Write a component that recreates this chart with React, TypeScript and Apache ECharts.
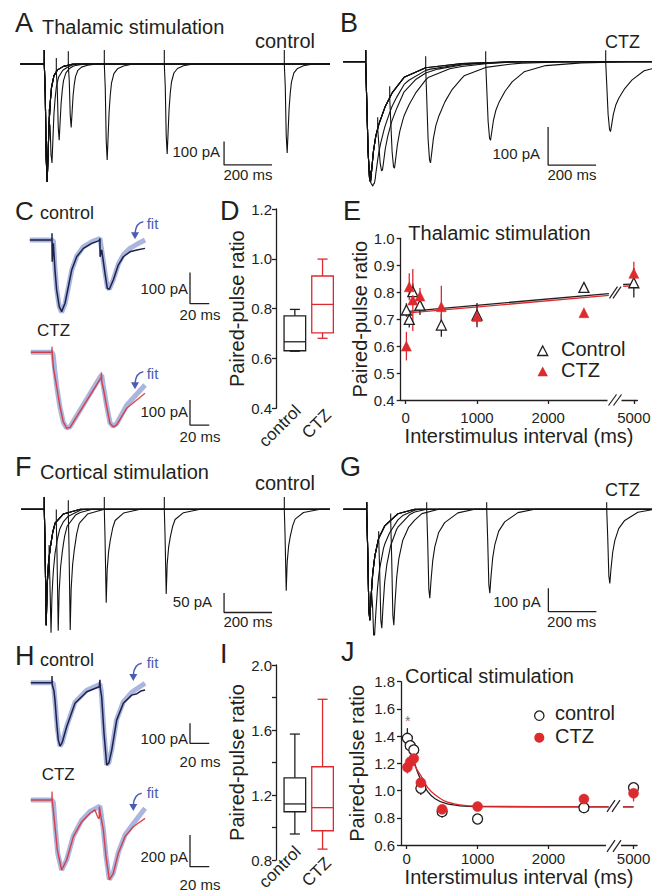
import React, { useEffect, useRef } from "react";
import * as echarts from "echarts";

type P = [number, number];

const FONT = "'Liberation Sans', Arial, sans-serif";
const INK = "#231f20";
const RED = "#dc2a2e";
const FITBLUE = "#aab6de";
const ARROWBLUE = "#4b5cb3";
const NAVY = "#1c2149";

// ---------------- Panels A, B, F, G : overlaid paired-pulse sweeps ----------------
const sweepIsi = [20, 50, 100, 250, 500, 1000]; // ms between the two stimuli
// normalised EPSC waveforms: [ms after stimulus, fraction of peak]
const shapeThalCtl: P[] = [[0, 0], [4, 0.25], [8, 0.8], [12, 1], [16, 0.75], [20, 0.5], [25, 0.32], [30, 0.2], [40, 0.1], [55, 0.05], [80, 0.02], [120, 0]];
const shapeThalCtz: P[] = [[0, 0], [4, 0.3], [10, 0.75], [16, 0.97], [20, 1], [25, 0.9], [32, 0.75], [42, 0.62], [55, 0.52], [80, 0.38], [110, 0.26], [160, 0.13], [250, 0.05], [400, 0.015], [600, 0]];
const shapeCortCtl: P[] = [[0, 0], [3, 0.3], [8, 1], [12, 0.65], [18, 0.45], [25, 0.33], [35, 0.2], [45, 0.12], [80, 0.04], [150, 0]];
const shapeCortCtz: P[] = [[0, 0], [4, 0.35], [9, 0.9], [13, 1], [18, 0.8], [25, 0.58], [34, 0.42], [50, 0.26], [75, 0.15], [130, 0.04], [200, 0]];
// amplitudes (pA) of first EPSC and of the added second EPSC per interval
const ampThalCtl1 = 506;
const ampThalCtl2 = [334, 306, 270, 412, 386, 382];
const ampThalCtz1 = 316;
const ampThalCtz2 = [103, 147, 206, 252, 205, 184];
const ampCortCtl1 = 299;
const ampCortCtl2 = [231, 286, 304, 241, 218, 210];
const ampCortCtz1 = 476;
const ampCortCtz2 = [331, 414, 462, 382, 360, 318];
// scale bars [ms, pA]
const barA: P[] = [[749, -333], [749, -433], [949, -433]];
const barB: P[] = [[760, -172], [760, -272], [960, -272]];
const barF: P[] = [[749, -216], [749, -266], [949, -266]];
const barG: P[] = [[757, -339], [757, -439], [957, -439]];

// ---------------- Panels C, H : single pairs (50 ms) with fits ----------------
const traceCctl: P[] = [[-23, 0], [0, 0], [0, 22], [0.2, -70], [1.4, -11], [3.1, -97], [4.8, -161], [7.5, -215], [10, -231], [13.5, -204], [17, -150], [20.4, -97], [25.6, -54], [32.5, -27], [41, -11], [49, -2], [49.7, 5], [49.8, -54], [51.5, -32], [54.9, -107], [57.3, -156], [59.4, -159], [63.5, -129], [68.7, -81], [73.9, -54], [80.8, -38], [87.8, -32], [96.4, -27]];
const fitCctl: P[] = [[-23, 0], [0, 0], [1.5, -4], [3.1, -92], [4.8, -158], [7.5, -214], [10, -233], [13.5, -206], [17, -152], [20.4, -98], [25.6, -52], [32.5, -22], [41, -6], [49.7, 5], [51, -22], [54.9, -104], [57.3, -152], [59.4, -158], [63.5, -128], [68.7, -78], [73.9, -48], [80.8, -27], [87.8, -14], [96.4, 0]];
const traceCctz: P[] = [[-22, 0], [0, 0], [0, 22], [0.3, -5], [1.35, -58], [4.9, -138], [8.3, -218], [11.7, -278], [15.2, -304], [18.7, -300], [49.7, -108], [51, -100], [51.2, -80], [51.5, -115], [53.5, -150], [56.7, -218], [60.1, -284], [63.5, -298], [67, -290], [77.4, -224], [96.4, -164]];
const fitCctz: P[] = [[-22, 0], [0, 0], [1.2, -10], [3, -75], [5, -140], [8.3, -220], [11.7, -280], [15, -302], [18.7, -298], [49.7, -100], [51.5, -91], [53, -130], [56.7, -215], [60.1, -282], [63.5, -296], [67, -286], [77.4, -212], [96.4, -131]];
const traceHctl: P[] = [[-22, 0], [0, 0], [0, 33], [0.3, -10], [2, -40], [3.1, -87], [4.9, -203], [6.5, -286], [8.3, -317], [10.5, -300], [15.2, -220], [23.8, -103], [36, -45], [49, -20], [49.7, 15], [50, -25], [51.5, -72], [53.9, -253], [56.7, -412], [59, -400], [61.9, -337], [67, -187], [73.9, -103], [82.6, -62], [88, -55], [92, -42], [96.4, -37]];
const fitHctl: P[] = [[-22, 0], [0, 0], [1.5, -5], [3.5, -110], [5.5, -230], [8.3, -317], [10.5, -300], [15.2, -218], [23.8, -98], [36, -38], [49.7, -8], [51, -40], [53.9, -250], [56.7, -410], [59, -398], [61.9, -335], [67, -184], [73.9, -96], [82.6, -48], [96.4, -3]];
const traceHctz: P[] = [[-22, 0], [0, 0], [0, 53], [0.3, -5], [1.35, -63], [3.1, -169], [5.5, -316], [10, -443], [15.2, -380], [22.1, -232], [30.8, -137], [39.4, -84], [44.6, -63], [46.5, -95], [48, -116], [49, -116], [49.1, -42], [50, -80], [53.2, -190], [56, -359], [59.4, -506], [63.5, -464], [68.7, -337], [75.6, -232], [84.2, -169], [96.4, -116]];
const fitHctz: P[] = [[-22, 0], [0, 0], [1.5, -15], [3.5, -180], [6, -340], [10, -443], [15.2, -378], [22.1, -228], [30.8, -128], [39.4, -72], [49.5, -40], [50.5, -70], [53.2, -185], [56, -355], [59.4, -503], [63.5, -462], [68.7, -333], [75.6, -222], [84.2, -150], [96.4, -52]];
const barC1: P[] = [[143, -105], [143, -205], [163, -205]];
const barC2: P[] = [[143, -191], [143, -291], [163, -291]];
const barH1: P[] = [[143, -203], [143, -303], [163, -303]];
const barH2: P[] = [[143, -222], [143, -422], [163, -422]];

// ---------------- Panels D, I : box plots [min, q1, median, q3, max] ----------------
const boxGroups = ["control", "CTZ"];
const thalBoxCtl = [0.629, 0.631, 0.667, 0.771, 0.797];
const thalBoxCtz = [0.681, 0.703, 0.817, 0.931, 0.999];
const cortBoxCtl = [0.96, 1.097, 1.145, 1.306, 1.575];
const cortBoxCtz = [0.867, 0.98, 1.122, 1.374, 1.789];

// ---------------- Panels E, J : PPR vs interval ----------------
const isiMs = [10, 50, 100, 200, 500, 1000, 2500, 5000];
const thalCtl = [0.734, 0.699, 0.802, 0.752, 0.678, 0.715, 0.818, 0.835];
const thalCtlErr = [0.025, 0.03, 0.03, 0.037, 0.043, 0.045, 0.015, 0.055];
const thalCtz = [0.6, 0.82, 0.771, 0.786, 0.746, 0.71, 0.724, 0.87];
const thalCtzErr = [0.053, 0.05, 0.115, 0.03, 0.078, 0.03, 0.01, 0.043];
const cortCtl = [1.384, 1.33, 1.298, 1.017, 0.845, 0.791, 0.874, 1.021];
const cortCtlErr = [0.075, 0.05, 0.04, 0.05, 0.045, 0.015, 0.02, 0.02];
const cortCtz = [1.171, 1.21, 1.235, 1.058, 0.862, 0.882, 0.938, 0.98];
const cortCtzErr = [0.045, 0.04, 0.05, 0.03, 0.03, 0.02, 0.02, 0.06];
const thalFitX = [0, 2850, 4850, 5000];
const thalFitCtl = [0.728, 0.795, 0.829, 0.83];
const thalFitCtz = [0.722, 0.788, 0.822, 0.824];
const cortFitX = [10, 50, 100, 150, 200, 300, 400, 550, 750, 1000, 2850, 4850, 5000];
const cortFitCtl = [1.38, 1.3, 1.22, 1.14, 1.08, 0.99, 0.94, 0.905, 0.888, 0.882, 0.88, 0.88, 0.88];
const cortFitCtz = [1.24, 1.23, 1.2, 1.15, 1.11, 1.02, 0.97, 0.92, 0.895, 0.885, 0.88, 0.88, 0.88];
const xTickMs = [0, 1000, 2000, 5000];

// axis break: values above the break are drawn 1800 ms closer
const BREAK_AT = 2900;
const BREAK_SHIFT = 1800;
const brk = (t: number) => (t <= BREAK_AT ? t : t - BREAK_SHIFT);

function shapeAt(shape: P[], t: number): number {
  if (t <= shape[0][0] || t >= shape[shape.length - 1][0]) return 0;
  for (let i = 1; i < shape.length; i++) {
    if (t <= shape[i][0]) {
      const [t0, f0] = shape[i - 1];
      const [t1, f1] = shape[i];
      return f0 + ((f1 - f0) * (t - t0)) / (t1 - t0);
    }
  }
  return 0;
}

function buildSweep(shape: P[], isi: number, a1: number, a2: number, art: number, tStart: number, tEnd: number): P[] {
  const times = new Set<number>([tStart, tEnd, 0, isi]);
  shape.forEach(([t]) => {
    times.add(t);
    times.add(t + isi);
  });
  const ts = Array.from(times).filter((t) => t >= tStart && t <= tEnd).sort((a, b) => a - b);
  const val = (t: number) => -(a1 * shapeAt(shape, t) + a2 * shapeAt(shape, t - isi));
  const out: P[] = [];
  ts.forEach((t) => {
    const v = val(t);
    if (t === 0 || t === isi) out.push([t, v], [t, v + art], [t, v]);
    else out.push([t, v]);
  });
  return out;
}

function fitSeriesData(xs: number[], ys: number[]): any[] {
  const out: any[] = [];
  xs.forEach((x, i) => {
    if (i > 0 && xs[i - 1] <= BREAK_AT && x > BREAK_AT) out.push([null, null]);
    out.push([brk(x), ys[i]]);
  });
  return out;
}

function buildOption() {
  const grid: any[] = [];
  const xAxis: any[] = [];
  const yAxis: any[] = [];
  const series: any[] = [];
  const graphic: any[] = [];

  const traceGrid = (left: number, top: number, width: number, height: number, x0: number, y0: number, pxMs: number, pxPA: number) => {
    const idx = grid.length;
    grid.push({ left, top, width, height, outerBoundsMode: "none" });
    xAxis.push({ type: "value", gridIndex: idx, min: (left - x0) / pxMs, max: (left + width - x0) / pxMs, show: false });
    yAxis.push({ type: "value", gridIndex: idx, min: (y0 - (top + height)) / pxPA, max: (y0 - top) / pxPA, show: false });
    return idx;
  };
  const line = (idx: number, data: any[], color: string, width: number, z = 2, extra: any = {}) => {
    series.push({
      type: "line", xAxisIndex: idx, yAxisIndex: idx, data, symbol: "none", showSymbol: false,
      lineStyle: { color, width, ...(extra.lineStyle || {}) }, clip: true, silent: true, z,
      ...(extra.smooth ? { smooth: extra.smooth } : {}),
    });
  };

  // ---- A, B, F, G
  const gA = traceGrid(20, 38, 312, 152, 44.3, 64, 0.24, 0.233);
  const gB = traceGrid(342, 38, 310, 152, 365.7, 61.7, 0.24, 0.38);
  const gF = traceGrid(20, 488, 312, 152, 44.3, 509.3, 0.24, 0.388);
  const gG = traceGrid(342, 488, 310, 152, 366.7, 509.3, 0.24, 0.233);
  sweepIsi.forEach((isi, i) => {
    line(gA, buildSweep(shapeThalCtl, isi, ampThalCtl1, ampThalCtl2[i], 60, -100, 1190), "#111", 1.1);
    line(gB, buildSweep(shapeThalCtz, isi, ampThalCtz1, ampThalCtz2[i], 30, -94, 1195), "#111", 1.1);
    line(gF, buildSweep(shapeCortCtl, isi, ampCortCtl1, ampCortCtl2[i], 32, -97, 1190), "#111", 1.1);
    line(gG, buildSweep(shapeCortCtz, isi, ampCortCtz1, ampCortCtz2[i], 30, -97, 1195), "#111", 1.1);
  });
  line(gA, barA, INK, 1.3);
  line(gB, barB, INK, 1.3);
  line(gF, barF, INK, 1.3);
  line(gG, barG, INK, 1.3);

  // ---- C, H
  const gC1 = traceGrid(25, 222, 195, 100, 52, 240, 0.965, 0.31);
  const gC2 = traceGrid(25, 338, 195, 100, 52, 352.3, 0.965, 0.25);
  const gH1 = traceGrid(25, 668, 195, 110, 52, 682.7, 0.965, 0.2);
  const gH2 = traceGrid(25, 782, 195, 112, 52, 800, 0.965, 0.158);
  line(gC1, fitCctl, FITBLUE, 5, 2);
  line(gC1, traceCctl, NAVY, 1.5, 3);
  line(gC2, fitCctz, FITBLUE, 5, 2);
  line(gC2, traceCctz, RED, 1.4, 3, { lineStyle: { opacity: 0.85 } });
  line(gH1, fitHctl, FITBLUE, 5, 2);
  line(gH1, traceHctl, NAVY, 1.5, 3);
  line(gH2, fitHctz, FITBLUE, 5, 2);
  line(gH2, traceHctz, RED, 1.4, 3, { lineStyle: { opacity: 0.85 } });
  line(gC1, barC1, INK, 1.3);
  line(gC2, barC2, INK, 1.3);
  line(gH1, barH1, INK, 1.3);
  line(gH2, barH2, INK, 1.3);

  // ---- D, I box plots
  const axisStyle = { color: INK, width: 1.3 };
  const boxGrid = (top: number, height: number, min: number, max: number, labelFmt: (v: number) => string) => {
    const idx = grid.length;
    grid.push({ left: 281, top, width: 55.4, height, outerBoundsMode: "none" });
    xAxis.push({
      type: "category", gridIndex: idx, data: boxGroups,
      axisLine: { show: false }, axisTick: { show: false }, axisLabel: { show: false },
    });
    yAxis.push({
      type: "value", gridIndex: idx, min, max, interval: 0.2, offset: 5,
      axisLine: { show: true, lineStyle: axisStyle }, axisTick: { show: true, length: 4, lineStyle: axisStyle },
      axisLabel: { fontSize: 15, color: INK, margin: 4, formatter: labelFmt, fontFamily: FONT },
      splitLine: { show: false },
      name: "Paired-pulse ratio", nameLocation: "middle", nameGap: 29,
      nameTextStyle: { fontSize: 20, color: INK, fontFamily: FONT },
    });
    return idx;
  };
  const boxSeries = (idx: number, ctl: number[], ctz: number[]) => {
    const colors = [INK, RED];
    series.push({
      type: "custom", xAxisIndex: idx, yAxisIndex: idx, silent: true, z: 3,
      encode: { x: 0, y: [1, 2, 3, 4, 5] },
      data: [[0, ...ctl], [1, ...ctz]],
      renderItem: (params: any, api: any) => {
        const i = api.value(0);
        const c = (k: number) => api.coord([i, api.value(k)]);
        const pMin = c(1), pQ1 = c(2), pMed = c(3), pQ3 = c(4), pMax = c(5);
        const x = pMin[0];
        const hw = 10.8, cw = 5;
        const style = { stroke: colors[i], lineWidth: 1.3, fill: "none" };
        const L = (x1: number, y1: number, x2: number, y2: number) => ({ type: "line", shape: { x1, y1, x2, y2 }, style });
        return {
          type: "group",
          children: [
            L(x, pMax[1], x, pQ3[1]),
            L(x - cw, pMax[1], x + cw, pMax[1]),
            L(x, pQ1[1], x, pMin[1]),
            L(x - cw, pMin[1], x + cw, pMin[1]),
            { type: "rect", shape: { x: x - hw, y: pQ3[1], width: 2 * hw, height: pQ1[1] - pQ3[1] }, style },
            L(x - hw, pMed[1], x + hw, pMed[1]),
          ],
        };
      },
    });
  };
  const gD = boxGrid(209, 199.3, 0.4, 1.2, (v) => v.toFixed(1));
  boxSeries(gD, thalBoxCtl, thalBoxCtz);
  const gI = boxGrid(665, 195, 0.8, 2.0, (v) => (Math.round(v * 10) % 4 === 0 ? v.toFixed(1) : ""));
  boxSeries(gI, cortBoxCtl, cortBoxCtz);

  // ---- E, J
  const pprGrid = (left: number, top: number, width: number, height: number, xmin: number, ymin: number, ymax: number, interval: number, nameGapY: number, labelMargin: number, nameGapX: number) => {
    const idx = grid.length;
    grid.push({ left, top, width, height, outerBoundsMode: "none" });
    const ticks = xTickMs.map(brk);
    xAxis.push({
      type: "value", gridIndex: idx, min: xmin, max: 3250,
      axisLine: { show: true, onZero: false, lineStyle: axisStyle },
      axisTick: { show: true, length: 4, customValues: ticks, lineStyle: axisStyle },
      axisLabel: { customValues: ticks, formatter: (v: number) => String(v > BREAK_AT - BREAK_SHIFT + 1000 ? v + BREAK_SHIFT : v), fontSize: 15, color: INK, margin: labelMargin, fontFamily: FONT },
      splitLine: { show: false },
      name: "Interstimulus interval (ms)", nameLocation: "middle", nameGap: nameGapX,
      nameTextStyle: { fontSize: 20, color: INK, fontFamily: FONT },
    });
    yAxis.push({
      type: "value", gridIndex: idx, min: ymin, max: ymax, interval,
      axisLine: { show: true, onZero: false, lineStyle: axisStyle },
      axisTick: { show: true, length: 4, lineStyle: axisStyle },
      axisLabel: { fontSize: 15, color: INK, margin: 6, formatter: (v: number) => v.toFixed(1), fontFamily: FONT },
      splitLine: { show: false },
      name: "Paired-pulse ratio", nameLocation: "middle", nameGap: nameGapY,
      nameTextStyle: { fontSize: 20, color: INK, fontFamily: FONT },
    });
    return idx;
  };
  const errSeries = (idx: number, vals: number[], errs: number[], color: string, z: number) => {
    series.push({
      type: "custom", xAxisIndex: idx, yAxisIndex: idx, silent: true, z,
      encode: { x: 0, y: [1, 2] },
      data: isiMs.map((t, i) => [brk(t), vals[i] - errs[i], vals[i] + errs[i]]),
      renderItem: (params: any, api: any) => {
        const a = api.coord([api.value(0), api.value(1)]);
        const b = api.coord([api.value(0), api.value(2)]);
        return { type: "line", shape: { x1: a[0], y1: a[1], x2: b[0], y2: b[1] }, style: { stroke: color, lineWidth: 1.3 } };
      },
    });
  };
  const pts = (idx: number, name: string, vals: number[], symbol: string, hollow: boolean, z: number) => {
    series.push({
      type: "scatter", name, xAxisIndex: idx, yAxisIndex: idx, silent: true, z, symbol, symbolSize: 10,
      data: isiMs.map((t, i) => [brk(t), vals[i]]),
      itemStyle: hollow
        ? { color: "#fff", borderColor: INK, borderWidth: 1.3, opacity: 1 }
        : { color: RED, borderColor: RED, borderWidth: 0.5, opacity: 1 },
    });
  };
  const gE = pprGrid(400.7, 238.3, 236.7, 161.7, -70, 0.4, 1.0, 0.1, 29, 10, 24);
  line(gE, fitSeriesData(thalFitX, thalFitCtz), RED, 1.3, 2);
  line(gE, fitSeriesData(thalFitX, thalFitCtl), INK, 1.3, 2);
  errSeries(gE, thalCtl, thalCtlErr, INK, 3);
  errSeries(gE, thalCtz, thalCtzErr, RED, 3);
  pts(gE, "Control", thalCtl, "triangle", true, 4);
  pts(gE, "CTZ", thalCtz, "triangle", false, 5);

  const gJ = pprGrid(401, 681.7, 236.1, 163.3, -80, 0.6, 1.8, 0.2, 34, 6, 21);
  line(gJ, fitSeriesData(cortFitX, cortFitCtl), INK, 1.3, 2, { smooth: 0.3 });
  line(gJ, fitSeriesData(cortFitX, cortFitCtz), RED, 1.3, 2, { smooth: 0.3 });
  errSeries(gJ, cortCtl, cortCtlErr, INK, 3);
  errSeries(gJ, cortCtz, cortCtzErr, RED, 3);
  pts(gJ, "control", cortCtl, "circle", true, 4);
  pts(gJ, "CTZ ", cortCtz, "circle", false, 5);

  // ---- annotations
  const T = (text: string, x: number, baseline: number, size: number, align = "left", fill = INK) => ({
    type: "text", x, y: baseline - 0.35 * size, z: 60, silent: true,
    style: { text, fill, fontSize: size, fontFamily: FONT, align, verticalAlign: "middle" },
  });
  // rotated category names of the box plots
  const R = (text: string, cx: number, cy: number, fill = INK) => ({
    type: "text", x: cx, y: cy, rotation: Math.PI / 4, z: 60, silent: true,
    style: { text, fill, fontSize: 17, fontFamily: FONT, align: "center", verticalAlign: "middle" },
  });
  graphic.push(
    R(boxGroups[0], 280, 426), R(boxGroups[1], 316.5, 424),
    R(boxGroups[0], 280, 867), R(boxGroups[1], 316.5, 872)
  );
  graphic.push(
    T("A", 15, 32.3, 27), T("Thalamic stimulation", 42, 34, 20), T("control", 255, 48.3, 20),
    T("B", 340, 32.3, 27), T("CTZ", 605, 48.3, 18),
    T("100 pA", 220, 156.7, 15, "right"), T("200 ms", 248, 180, 15, "center"),
    T("100 pA", 540, 158.3, 15, "right"), T("200 ms", 572, 180, 15, "center"),
    T("C", 15, 220, 26), T("control", 40, 219.3, 18), T("fit", 146.7, 228.3, 15, "left", ARROWBLUE),
    T("100 pA", 188, 293.3, 15, "right"), T("20 ms", 200, 320, 15, "center"),
    T("CTZ", 37, 336.7, 17), T("fit", 146.7, 378.3, 15, "left", ARROWBLUE),
    T("100 pA", 188, 416.7, 15, "right"), T("20 ms", 200, 441.7, 15, "center"),
    T("D", 220, 220, 27), T("E", 343, 220, 27),
    T("Thalamic stimulation", 408.3, 240, 20), T("Control", 561, 355.7, 20), T("CTZ", 561, 376.7, 20),
    T("F", 15, 476.7, 27), T("Cortical stimulation", 40, 479.3, 20), T("control", 255, 490, 20),
    T("50 pA", 212, 606.7, 15, "right"), T("200 ms", 248, 626.7, 15, "center"),
    T("G", 340, 476.7, 27), T("CTZ", 605, 496.7, 18),
    T("100 pA", 540.7, 606.7, 15, "right"), T("200 ms", 571.7, 626.7, 15, "center"),
    T("H", 15, 665, 27), T("control", 40, 666, 18), T("fit", 146.7, 667.3, 15, "left", ARROWBLUE),
    T("100 pA", 188, 743.3, 15, "right"), T("20 ms", 200, 766.7, 15, "center"),
    T("CTZ", 41.7, 780, 17), T("fit", 146.7, 797.3, 15, "left", ARROWBLUE),
    T("200 pA", 188, 861.7, 15, "right"), T("20 ms", 200, 890, 15, "center"),
    T("I", 220, 663.3, 27), T("J", 341, 661.7, 27),
    T("Cortical stimulation", 405, 683.3, 20), T("control", 555, 720, 20), T("CTZ", 555, 743.3, 20),
    T("*", 407.7, 726, 14, "center", "#777")
  );
  // "fit" arrows
  const arrow = (sx: number, sy: number, ex: number, ey: number) => [
    { type: "bezierCurve", z: 60, silent: true, shape: { x1: sx, y1: sy, cpx1: ex + 1, cpy1: sy + 1, x2: ex, y2: ey - 5 }, style: { stroke: ARROWBLUE, lineWidth: 1.5, fill: "none" } },
    { type: "polygon", z: 60, silent: true, shape: { points: [[ex - 4, ey - 6], [ex + 4, ey - 6], [ex, ey + 1]] }, style: { fill: ARROWBLUE } },
  ];
  graphic.push(...arrow(143.3, 221.7, 135, 238.3), ...arrow(143.3, 371.7, 135, 388.3), ...arrow(141.7, 663.3, 133.3, 680), ...arrow(141.7, 793.3, 133.3, 810));
  // legend keys
  graphic.push(
    { type: "polygon", z: 60, silent: true, shape: { points: [[542.7, 346], [547.7, 355.5], [537.7, 355.5]] }, style: { fill: "#fff", stroke: INK, lineWidth: 1.3 } },
    { type: "polygon", z: 60, silent: true, shape: { points: [[542.7, 366.5], [547.9, 376.2], [537.5, 376.2]] }, style: { fill: RED } },
    { type: "circle", z: 60, silent: true, shape: { cx: 539.3, cy: 715.7, r: 4.7 }, style: { fill: "#fff", stroke: INK, lineWidth: 1.3 } },
    { type: "circle", z: 60, silent: true, shape: { cx: 539.3, cy: 737.7, r: 5 }, style: { fill: RED } }
  );
  // axis-break marks
  const slashes = (x: number, y: number, gap: number, h: number, cover: boolean) => {
    const out: any[] = [];
    if (cover) out.push({ type: "rect", z: 59, silent: true, shape: { x: x - 1, y: y - 3, width: gap + 9, height: 6 }, style: { fill: "#fff" } });
    [0, gap].forEach((dx) =>
      out.push({ type: "line", z: 60, silent: true, shape: { x1: x + dx, y1: y + h, x2: x + dx + 8, y2: y - h }, style: { stroke: INK, lineWidth: 1.2 } })
    );
    return out;
  };
  graphic.push(...slashes(608.5, 400, 5, 5.5, true), ...slashes(609.5, 292.5, 3.5, 5.8, false));
  graphic.push(...slashes(607, 846, 6, 5.8, true), ...slashes(607, 806, 5, 5.8, false));

  return {
    animation: false,
    backgroundColor: "#fff",
    textStyle: { fontFamily: FONT },
    grid, xAxis, yAxis, series, graphic,
  };
}

export default function App() {
  const ref = useRef<HTMLDivElement>(null);
  useEffect(() => {
    if (!ref.current) return;
    const chart = echarts.init(ref.current, undefined, { renderer: "svg", width: 652, height: 894 });
    chart.setOption(buildOption() as any);
    return () => chart.dispose();
  }, []);
  return <div ref={ref} style={{ position: "absolute", left: 0, top: 0, width: 652, height: 894, background: "#fff" }} />;
}
